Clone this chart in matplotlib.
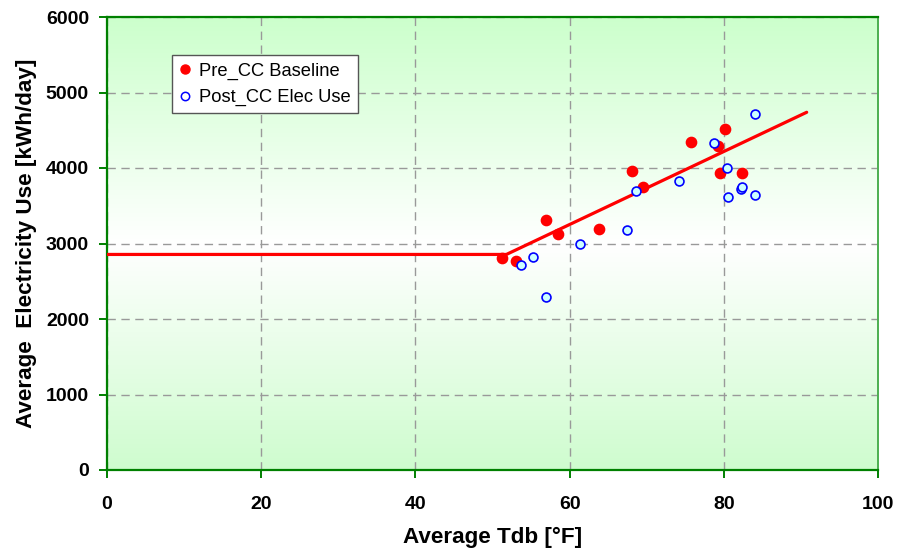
import numpy as np
import matplotlib
matplotlib.use("Agg")
import matplotlib.pyplot as plt
from matplotlib.lines import Line2D

plt.rcParams['font.family'] = ['Liberation Sans', 'DejaVu Sans']

# ---- data ----
pre_x = [51.2, 53.0, 56.9, 58.5, 63.8, 68.1, 69.5, 75.8, 79.3, 80.2, 79.5, 82.4]
pre_y = [2804, 2773, 3311, 3126, 3192, 3960, 3744, 4344, 4296, 4512, 3929, 3934]

post_x = [53.7, 55.2, 56.9, 61.3, 67.4, 68.6, 74.2, 78.7, 80.4, 80.5, 82.2, 82.4, 84.0, 84.1]
post_y = [2715, 2826, 2296, 2993, 3179, 3700, 3824, 4327, 3996, 3620, 3718, 3744, 4715, 3638]

fit_x = [0, 51.8, 90.75]
fit_y = [2855, 2855, 4738]

x_ticks = [0, 20, 40, 60, 80, 100]
y_ticks = [0, 1000, 2000, 3000, 4000, 5000, 6000]

# ---- figure ----
fig = plt.figure(figsize=(8.98, 5.52), dpi=100)
ax = fig.add_axes([107/898, (552-470)/552, (878-107)/898, (470-17)/552])

# background gradient: green at top and bottom, white in the middle
n = 256
t = np.linspace(0, 1, n)
w = np.clip(np.abs(t - 0.5) * 2, 0, 1)
top = np.array([0.80, 1.0, 0.80])
bot = np.array([0.81, 0.99, 0.81])
cols = np.zeros((n, 1, 3))
for i in range(n):
    end = top if t[i] > 0.5 else bot
    cols[i, 0, :] = (1 - w[i]) * np.array([1, 1, 1]) + w[i] * end
ax.imshow(cols, extent=[0, 1, 0, 1], transform=ax.transAxes, aspect='auto',
          origin='lower', zorder=0, interpolation='bilinear')

ax.set_xlim(0, 100)
ax.set_ylim(0, 6000)
ax.set_xticks(x_ticks)
ax.set_yticks(y_ticks)

ax.grid(True, color='#999999', linestyle=(0, (6, 4)), linewidth=1.0, zorder=1)
ax.set_axisbelow(True)

ax.plot(fit_x, fit_y, color='#ff0000', linewidth=2.3, zorder=3, solid_capstyle='round')
ax.plot(pre_x, pre_y, linestyle='none', marker='o', markersize=7.4,
        markerfacecolor='#ff0000', markeredgecolor='#ff0000', zorder=4)
ax.plot(post_x, post_y, linestyle='none', marker='o', markersize=6.4,
        markerfacecolor='#ccffff', markeredgecolor='#0000ff', markeredgewidth=1.2, zorder=5)

for s in ['left', 'bottom', 'top']:
    ax.spines[s].set_color('#008000')
    ax.spines[s].set_linewidth(1.6)
ax.spines['right'].set_color('#4caf50')
ax.spines['right'].set_linewidth(1.4)

ax.tick_params(axis='both', direction='out', length=5.5, width=1.4, color='#008000',
               labelsize=14)
ax.tick_params(axis='x', pad=13)
ax.tick_params(axis='y', pad=7.5)
for lab in ax.get_xticklabels() + ax.get_yticklabels():
    lab.set_fontweight('bold')

ax.set_xlabel('Average Tdb [°F]', fontsize=16.2, fontweight='bold', labelpad=10)
ax.set_ylabel('Average  Electricity Use [kWh/day]', fontsize=16.2, fontweight='bold', labelpad=6)

handles = [
    Line2D([], [], linestyle='none', marker='o', markersize=6.5,
           markerfacecolor='#ff0000', markeredgecolor='#ff0000'),
    Line2D([], [], linestyle='none', marker='o', markersize=6,
           markerfacecolor='white', markeredgecolor='#0000ff', markeredgewidth=1.1),
]
leg = ax.legend(handles, ['Pre_CC Baseline', 'Post_CC Elec Use'],
                loc='upper left', bbox_to_anchor=(0.0839, 0.9155),
                fontsize=13.2, frameon=True, fancybox=False, framealpha=1,
                edgecolor='#555555', handlelength=0.6, handletextpad=0.5,
                borderpad=0.4, labelspacing=0.5, borderaxespad=0)
leg.get_frame().set_linewidth(1.0)
leg.set_zorder(6)

fig.savefig('out.png', dpi=100)
